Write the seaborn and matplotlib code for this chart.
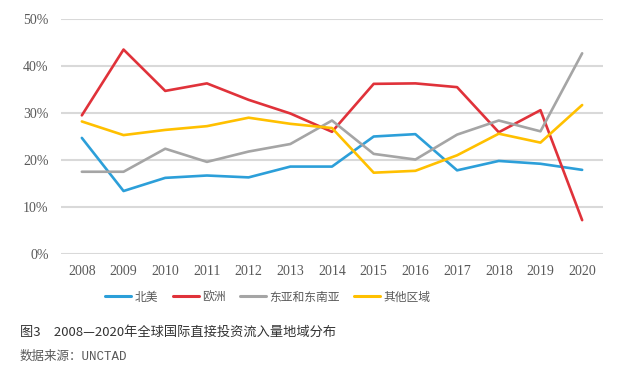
import pandas as pd
import seaborn as sns
import matplotlib.pyplot as plt
from matplotlib.ticker import PercentFormatter

years = list(range(2008, 2021))
north_america = [24.7, 13.4, 16.2, 16.7, 16.3, 18.6, 18.6, 25.0, 25.5, 17.8, 19.8, 19.2, 17.9]
europe = [29.5, 43.5, 34.7, 36.3, 32.8, 29.9, 26.0, 36.2, 36.3, 35.5, 25.9, 30.6, 7.2]
east_asia = [17.5, 17.5, 22.4, 19.6, 21.8, 23.4, 28.4, 21.3, 20.1, 25.4, 28.4, 26.1, 42.7]
others = [28.2, 25.3, 26.4, 27.2, 29.0, 27.7, 26.8, 17.3, 17.7, 21.0, 25.6, 23.7, 31.7]

series_names = ["北美", "欧洲", "东亚和东南亚", "其他区域"]
colors = ["#2C9FD9", "#E0323A", "#A5A5A5", "#FFC000"]


def main():
    sns.set_style("white")
    plt.rcParams["font.family"] = ["Noto Sans CJK SC", "DejaVu Sans"]

    frames = []
    for name, vals in zip(series_names, [north_america, europe, east_asia, others]):
        frames.append(pd.DataFrame({"year": years, "share": vals, "region": name}))
    df = pd.concat(frames, ignore_index=True)

    fig = plt.figure(figsize=(6.28, 3.70), dpi=100)
    ax = fig.add_axes([61 / 628, 1 - 254 / 370, 542 / 628, 235 / 370])

    sns.lineplot(
        data=df,
        x="year",
        y="share",
        hue="region",
        palette=colors,
        linewidth=1.9,
        ax=ax,
        legend=False,
    )

    ax.set_xlim(2007.5, 2020.5)
    ax.set_ylim(0, 50)
    ax.set_xticks(years)
    ax.set_yticks([0, 10, 20, 30, 40, 50])
    ax.yaxis.set_major_formatter(PercentFormatter(decimals=0))
    ax.grid(axis="y", color="#D9D9D9", linewidth=1.5)
    ax.set_axisbelow(True)
    for s in ax.spines.values():
        s.set_visible(False)
    ax.tick_params(axis="both", length=0, colors="#595959", labelsize=10)
    ax.tick_params(axis="y", pad=9)
    ax.tick_params(axis="x", pad=8)
    for lab in ax.get_xticklabels() + ax.get_yticklabels():
        lab.set_family("Liberation Serif")
    ax.set_xlabel("")
    ax.set_ylabel("")

    handles = [plt.Line2D([], [], color=c, linewidth=2.2) for c in colors]
    fig.legend(
        handles,
        series_names,
        loc="center",
        bbox_to_anchor=(268 / 628, 1 - 297 / 370),
        ncol=4,
        frameon=False,
        fontsize=8.5,
        handlelength=2.2,
        handletextpad=0.3,
        columnspacing=1.2,
        labelcolor="#595959",
    )

    fig.text(20 / 628, 1 - 332 / 370, "图3　2008—2020年全球国际直接投资流入量地域分布",
             fontsize=9.5, color="#333333", va="center", ha="left")
    fig.text(20 / 628, 1 - 357 / 370, "数据来源：UNCTAD",
             fontsize=9, color="#595959", va="center", ha="left",
             family=["Liberation Mono", "Noto Sans CJK SC"])

    fig.savefig("out.png", dpi=100)


if __name__ == "__main__":
    main()
